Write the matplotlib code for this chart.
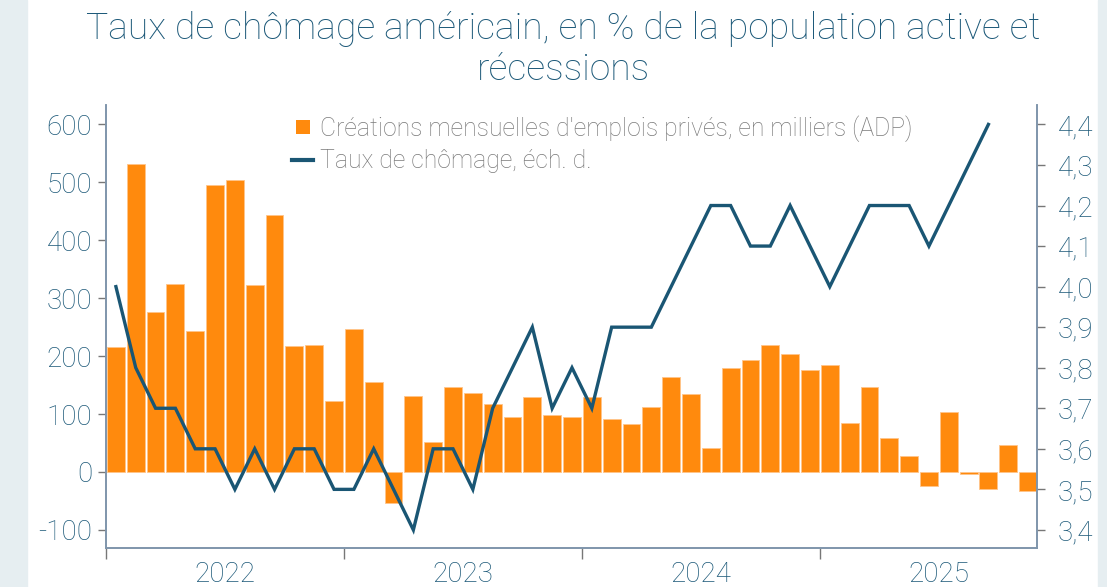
import matplotlib
matplotlib.use('Agg')
import matplotlib.pyplot as plt
from matplotlib.lines import Line2D
from matplotlib.ticker import FixedLocator, FuncFormatter
import numpy as np

# données : janvier 2022 -> novembre 2025 (créations ADP, milliers)
adp = [216, 531, 277, 324, 244, 495, 504, 322, 443, 217, 220, 122,
       247, 156, -53, 131, 51, 146, 137, 118, 95, 130, 99, 95,
       129, 91, 82, 113, 164, 135, 41, 180, 194, 220, 204, 176,
       185, 84, 147, 59, 28, -24, 103, -3, -29, 46, -32]

# taux de chômage (%), janvier 2022 -> septembre 2025
chomage = [4.0, 3.8, 3.7, 3.7, 3.6, 3.6, 3.5, 3.6, 3.5, 3.6, 3.6, 3.5,
           3.5, 3.6, 3.5, 3.4, 3.6, 3.6, 3.5, 3.7, 3.8, 3.9, 3.7, 3.8,
           3.7, 3.9, 3.9, 3.9, 4.0, 4.1, 4.2, 4.2, 4.1, 4.1, 4.2, 4.1,
           4.0, 4.1, 4.2, 4.2, 4.2, 4.1, 4.2, 4.3, 4.4]

annees = ['2022', '2023', '2024', '2025']

titre = 'Taux de chômage américain, en % de la population active et\nrécessions'
lab_adp = "Créations mensuelles d'emplois privés, en milliers (ADP)"
lab_chom = 'Taux de chômage, éch. d.'

orange = '#FF8A0D'
bleu = '#1A5674'
txt = '#1B5878'
axe = '#7F95AB'

plt.rcParams['font.family'] = ['Roboto', 'DejaVu Sans']
plt.rcParams['axes.unicode_minus'] = False

fig = plt.figure(figsize=(11.07, 5.87), dpi=100)
fig.patch.set_facecolor('white')

# bandes latérales claires
fig.add_artist(plt.Rectangle((0, 0), 27 / 1107, 1, transform=fig.transFigure,
                             color='#E6EEF1', zorder=0))
fig.add_artist(plt.Rectangle((1098 / 1107, 0), 9 / 1107, 1, transform=fig.transFigure,
                             color='#E6EEF1', zorder=0))

ax1 = fig.add_axes([106 / 1107, 39 / 587, 931 / 1107, 443 / 587])
ax1.set_facecolor('none')
ax2 = ax1.twinx()

x_adp = np.arange(len(adp))
x_ch = np.arange(len(chomage))

ax1.bar(x_adp, adp, width=0.9, color=orange, edgecolor='#FFC58A', linewidth=0.6, zorder=2)
ax2.plot(x_ch, chomage, color=bleu, linewidth=2.4, solid_joinstyle='miter', zorder=3)

ax1.set_xlim(-0.5, 46.45)
ax1.set_ylim(-131.2, 633.5)
ax2.set_ylim(3.3554, 4.4479)

ax1.set_yticks(range(-100, 601, 100))
ax2.set_yticks(np.arange(3.4, 4.41, 0.1))
ax2.yaxis.set_major_formatter(FuncFormatter(lambda v, p: f'{v:.1f}'.replace('.', ',')))

# années : traits aux limites, étiquettes au milieu
ax1.xaxis.set_major_locator(FixedLocator([-0.5, 11.5, 23.5, 35.5]))
ax1.xaxis.set_minor_locator(FixedLocator([5.5, 17.5, 29.5, 41.5]))
ax1.set_xticklabels(['', '', '', ''])
ax1.set_xticklabels(annees, minor=True)
ax1.tick_params(axis='x', which='major', length=8, width=1, color='#777777')
ax1.tick_params(axis='x', which='minor', length=0, labelsize=20, labelcolor=txt, pad=9)

ax1.tick_params(axis='y', length=6, width=1, color='#777777', labelsize=20,
                labelcolor=txt, pad=4)
ax2.tick_params(axis='y', length=6, width=1, color='#777777', labelsize=20,
                labelcolor=txt, pad=9)

for a in (ax1, ax2):
    a.spines['top'].set_visible(False)
    for s in ('left', 'right', 'bottom'):
        a.spines[s].set_color(axe)
        a.spines[s].set_linewidth(1.2)

for t in ax1.get_yticklabels() + ax2.get_yticklabels() + ax1.get_xticklabels(minor=True):
    t.set_fontweight('light')

fig.text(563 / 1107, 0.982, titre, ha='center', va='top', fontsize=26.8, color=txt,
         fontweight='light', linespacing=1.2)

handles = [Line2D([], [], marker='s', linestyle='none', markersize=10.5,
                  color=orange, markeredgewidth=0),
           Line2D([], [], color=bleu, linewidth=3)]
leg = fig.legend(handles, [lab_adp, lab_chom], loc='upper left',
                 bbox_to_anchor=(280 / 1107, 1 - 103 / 587), frameon=False,
                 fontsize=17.8, handlelength=0.85, handletextpad=0.25,
                 labelspacing=0.3, borderpad=0)
for t in leg.get_texts():
    t.set_color('#7A7A7A')
    t.set_fontweight('light')

fig.savefig('out.png', dpi=100)
